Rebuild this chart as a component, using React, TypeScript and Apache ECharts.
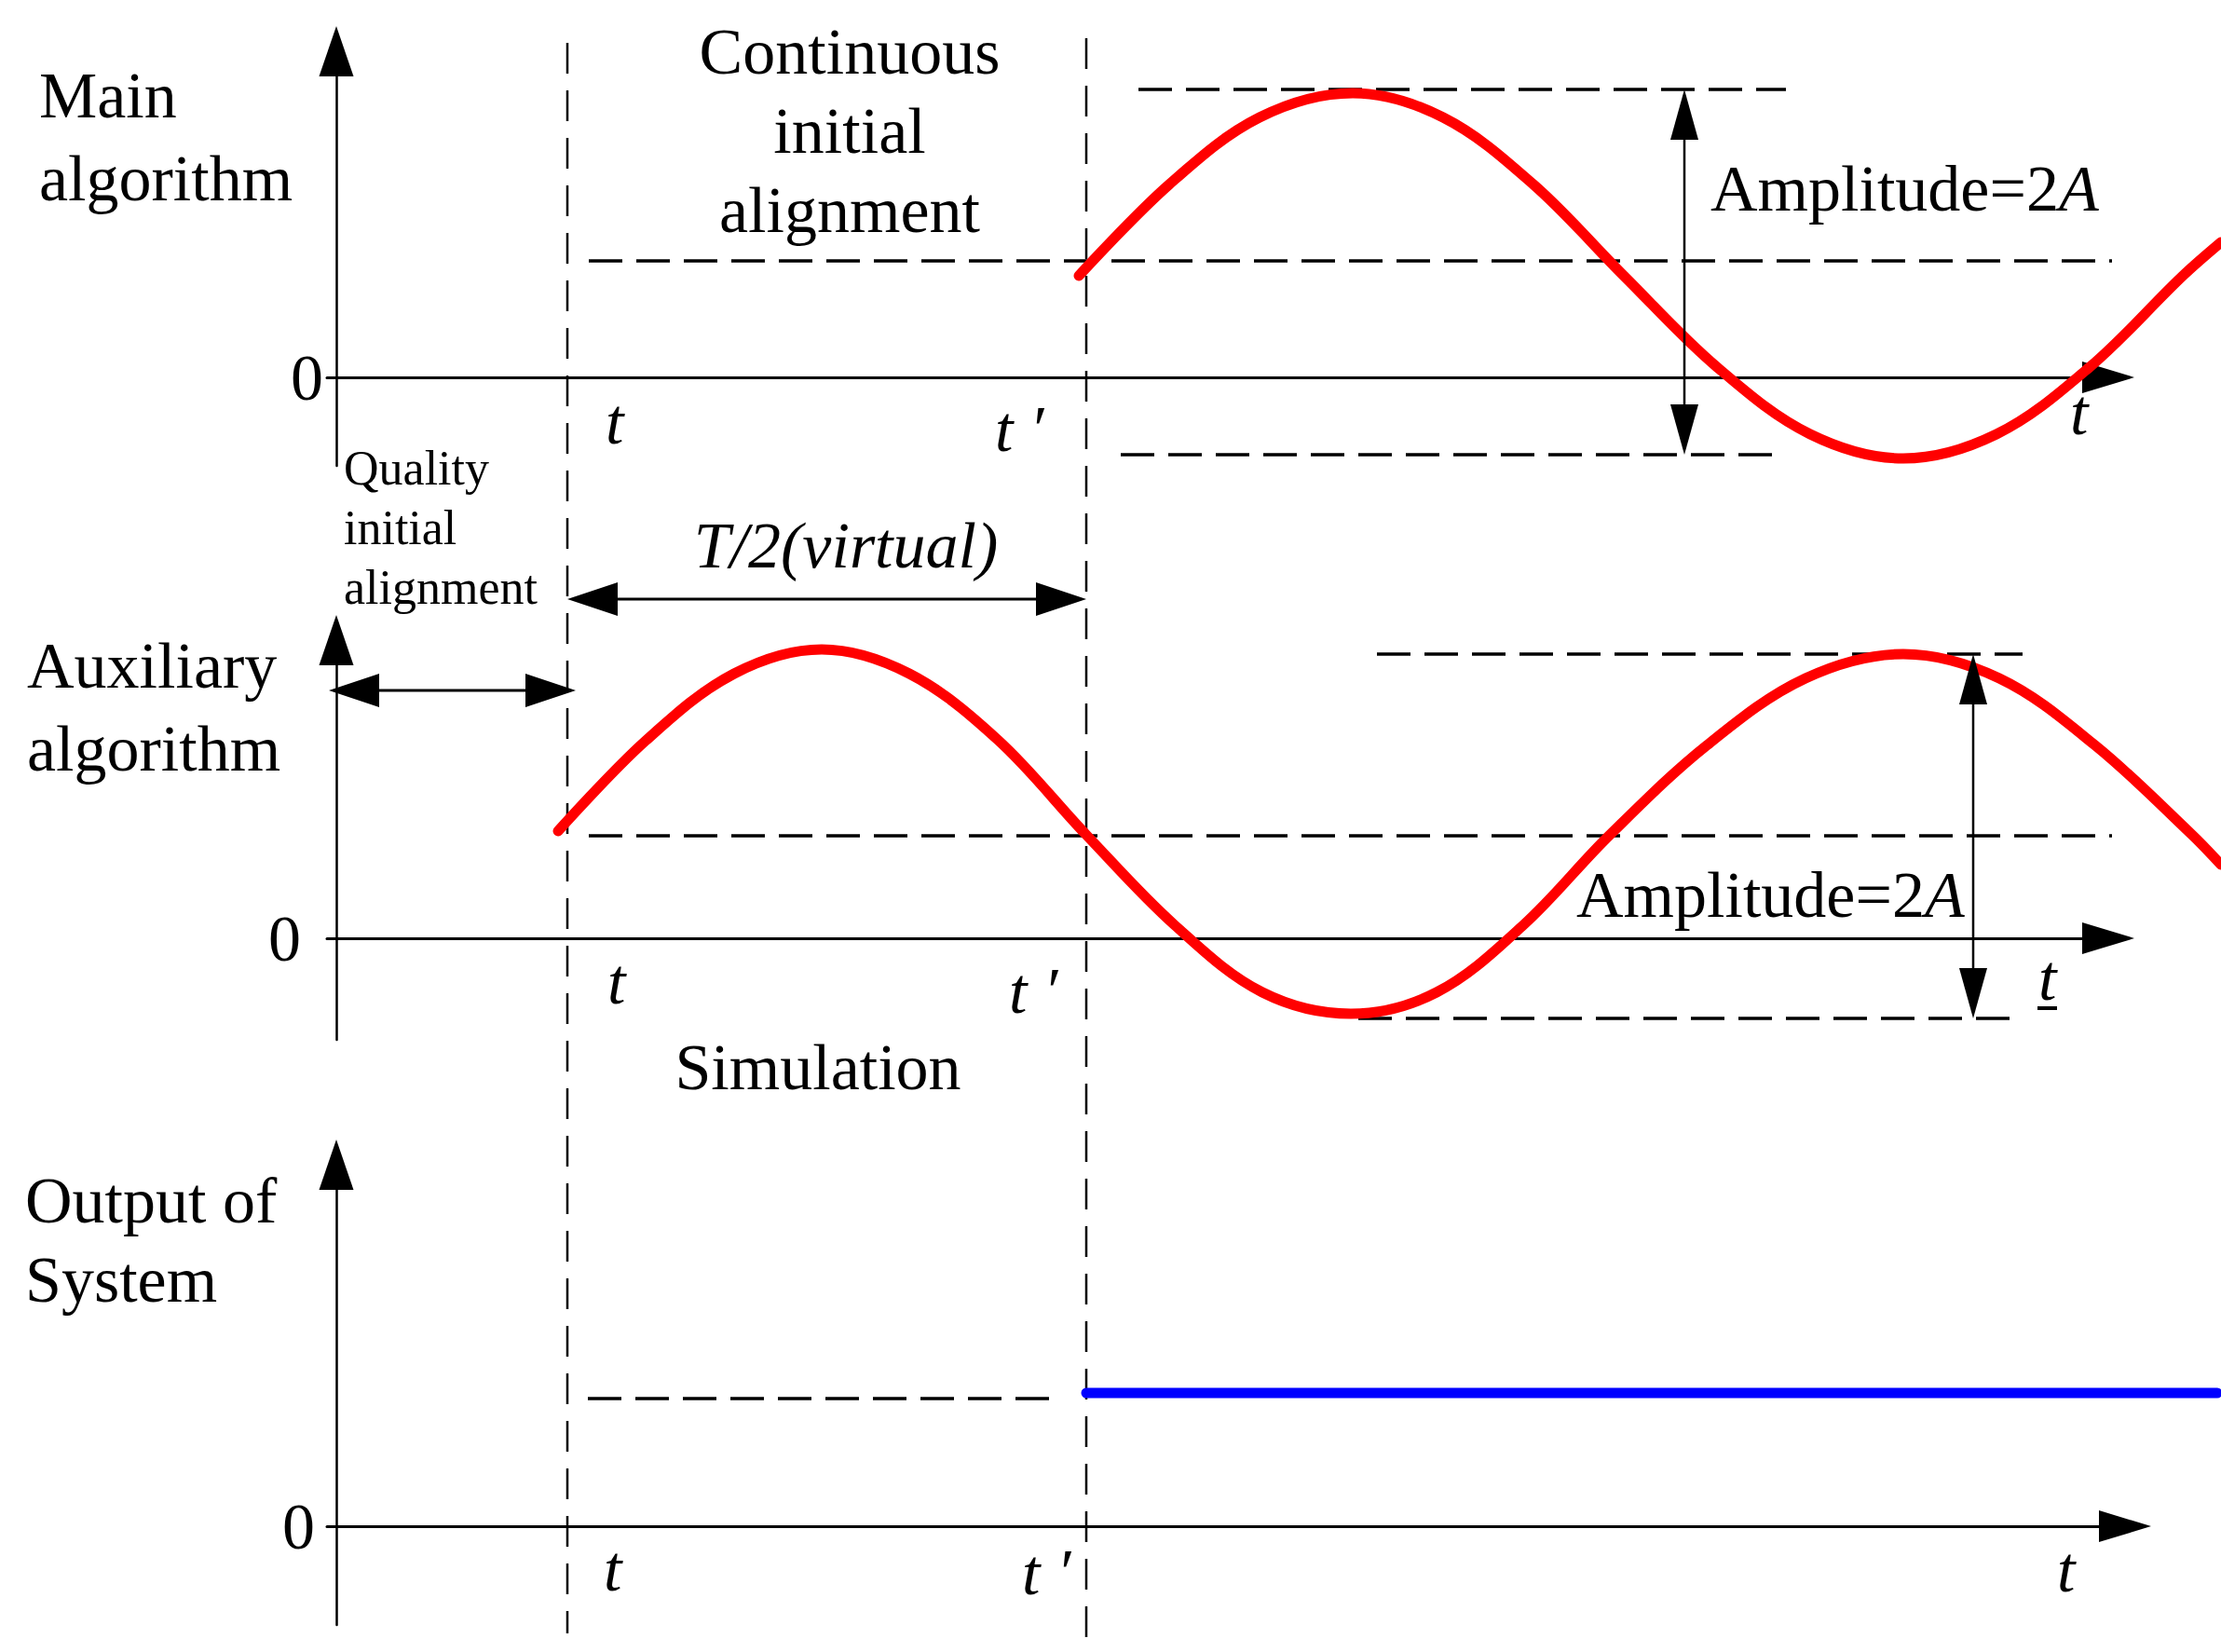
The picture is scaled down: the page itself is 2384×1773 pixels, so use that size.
import React, { useEffect, useRef } from 'react';
import * as echarts from 'echarts';

// ---------------- data (x: time units, y: signal units, 0 = time axis) ----------------
const T_START = 2.48; // t
const T_PRIME = 8.05; // t′

// Main algorithm (red sine after t′)
const mainX = [7.97, 8.94, 9.91, 10.91, 11.88, 12.85, 13.82, 14.82, 15.82, 16.82, 17.82, 18.82, 19.82, 20.23];
const mainY = [1.09, 2.07, 2.79, 3.05, 2.79, 2.07, 1.09, 0.11, -0.61, -0.87, -0.61, 0.11, 1.09, 1.45];

// Auxiliary algorithm (red sine after t)
const auxX = [2.38, 3.32, 4.27, 5.21, 6.15, 7.1, 8.05, 9.0, 9.94, 10.89, 11.81, 12.74, 13.66, 14.71, 15.77, 16.82, 17.85, 18.88, 19.91, 20.23];
const auxY = [1.15, 2.12, 2.84, 3.1, 2.84, 2.13, 1.11, 0.14, -0.58, -0.81, -0.58, 0.14, 1.1, 2.07, 2.79, 3.05, 2.79, 2.07, 1.12, 0.79];

// Output of system (blue level after t′)
const outX = [8.05, 20.19];
const outY = [1.43, 1.43];

// Dashed reference levels
const mainDashY = [3.09, 1.25, -0.83];
const mainDashFrom = [8.61, 2.71, 8.42];
const mainDashTo = [15.56, 19.06, 15.49];
const auxDashY = [3.05, 1.1, -0.86];
const auxDashFrom = [11.17, 2.71, 10.97];
const auxDashTo = [18.1, 19.06, 18.04];
const outDashY = [1.37];
const outDashFrom = [2.7];
const outDashTo = [7.66];

// Vertical dashed markers at t and t′ (page-height units, top → bottom)
const markerX = [T_START, T_PRIME];
const markerTop = [0.46, 0.41];
const markerBottom = [17.53, 17.57];

// Double arrows
const ampArrowX = [14.47, 17.57]; // main, auxiliary
const ampArrowTop = [3.09, 3.05];
const ampArrowBottom = [-0.83, -0.86];
const halfPeriodArrowY = 3.64; // T/2 (virtual), auxiliary panel units
const qualityArrowY = 2.66;
const qualityArrowFrom = -0.08;
const qualityArrowTo = 2.57;

// Panel axis ranges
const Y_MIN = [-0.95, -1.09, -1.06];
const Y_MAX = [3.5, 3.2, 3.88];
const X_MIN = -0.1;
const X_MAX = 19.1; // end of the drawn time axis
const X_MAX_PAGE = 20.23; // right edge of the picture (curves run to it)

// ---------------- styles / layout ----------------
const FONT = 'Liberation Serif, "Times New Roman", serif';
const RED = '#ff0000';
const BLUE = '#0000ff';
const BLACK = '#000000';
const ARROW_HALF = 0.27; // half arrow-head length in data units

const GRID_LEFT = 351;
const GRID_W = 1920;
const GRID_W_PAGE = 2033;
const GRID_TOP = [55, 687, 1250];
const GRID_H = [445, 429, 494];
const ZERO_MARGIN = [4, 28, 13];
const X_ARROW_OFFSET = [-8, -8, 10];

const pts = (xs: number[], ys: number[]) => xs.map((x, i) => [x, ys[i]]);

function lineSeries(idx: number, data: any[], lineStyle: any, extra: any = {}) {
  return {
    type: 'line',
    xAxisIndex: idx,
    yAxisIndex: idx,
    data,
    symbol: 'none',
    clip: false,
    silent: true,
    animation: false,
    lineStyle,
    ...extra,
  };
}

function arrowSeries(idx: number, p1: number[], p2: number[], r1: number, r2: number, headW: number, width: number) {
  return {
    type: 'line',
    xAxisIndex: idx,
    yAxisIndex: idx,
    data: [
      { value: p1, symbolRotate: r1 },
      { value: p2, symbolRotate: r2 },
    ],
    symbol: 'triangle',
    symbolSize: [headW, 54],
    showSymbol: true,
    clip: false,
    silent: true,
    z: 6,
    itemStyle: { color: BLACK },
    lineStyle: { color: BLACK, width },
  };
}

function label(text: string, x: number, baseline: number, size: number, lh: number, align = 'left', italic = false, rich?: any) {
  return {
    type: 'text',
    x,
    y: baseline - lh / 2 - 0.3375 * size,
    silent: true,
    z: 10,
    style: {
      text,
      fontFamily: FONT,
      fontSize: size,
      fontStyle: italic ? 'italic' : 'normal',
      fill: BLACK,
      align,
      textAlign: align,
      verticalAlign: 'top',
      textVerticalAlign: 'top',
      lineHeight: lh,
      rich,
    },
  };
}

const ampRich = {
  n: { fontFamily: FONT, fontSize: 70, fill: BLACK, lineHeight: 80 },
  i: { fontFamily: FONT, fontSize: 70, fill: BLACK, fontStyle: 'italic', lineHeight: 80 },
};

function buildOption() {
  const dashH = { color: BLACK, width: 3.5, type: [36, 15] };
  const dashV = { color: BLACK, width: 2.5, type: [33, 18] };
  const series: any[] = [];

  // waves (on the page-wide twin grids 4..6, same scale as panels 0..2)
  series.push(lineSeries(4, pts(mainX, mainY), { color: RED, width: 11, cap: 'round', join: 'round' }, { smooth: 0.35, z: 5 }));
  series.push(lineSeries(5, pts(auxX, auxY), { color: RED, width: 11, cap: 'round', join: 'round' }, { smooth: 0.35, z: 5 }));
  series.push(lineSeries(6, pts(outX, outY), { color: BLUE, width: 11, cap: 'round' }, { z: 5 }));

  // dashed levels
  const addDash = (idx: number, ys: number[], from: number[], to: number[]) =>
    ys.forEach((y, i) => series.push(lineSeries(idx, [[from[i], y], [to[i], y]], dashH, { z: 3 })));
  addDash(0, mainDashY, mainDashFrom, mainDashTo);
  addDash(1, auxDashY, auxDashFrom, auxDashTo);
  addDash(2, outDashY, outDashFrom, outDashTo);

  // vertical markers (overlay grid)
  markerX.forEach((x, i) => series.push(lineSeries(3, [[x, markerTop[i]], [x, markerBottom[i]]], dashV, { z: 3 })));

  // amplitude arrows
  series.push(arrowSeries(0, [ampArrowX[0], ampArrowTop[0] - ARROW_HALF], [ampArrowX[0], ampArrowBottom[0] + ARROW_HALF], 0, 180, 30, 2.5));
  series.push(arrowSeries(1, [ampArrowX[1], ampArrowTop[1] - ARROW_HALF], [ampArrowX[1], ampArrowBottom[1] + ARROW_HALF], 0, 180, 30, 2.5));
  // T/2 arrow and quality arrow
  series.push(arrowSeries(1, [T_START + ARROW_HALF, halfPeriodArrowY], [T_PRIME - ARROW_HALF, halfPeriodArrowY], 90, -90, 36, 3));
  series.push(arrowSeries(1, [qualityArrowFrom + ARROW_HALF, qualityArrowY], [qualityArrowTo - ARROW_HALF, qualityArrowY], 90, -90, 36, 3));

  const grid: any[] = [0, 1, 2].map((i) => ({ left: GRID_LEFT, width: GRID_W, top: GRID_TOP[i], height: GRID_H[i], containLabel: false }));
  grid.push({ left: GRID_LEFT, width: GRID_W, top: 0, height: 1773, containLabel: false });
  [0, 1, 2].forEach((i) => grid.push({ left: GRID_LEFT, width: GRID_W_PAGE, top: GRID_TOP[i], height: GRID_H[i], containLabel: false }));

  const xAxis: any[] = [0, 1, 2].map((i) => ({
    type: 'value',
    gridIndex: i,
    min: X_MIN,
    max: X_MAX,
    axisLine: {
      show: true,
      onZero: true,
      symbol: ['none', 'triangle'],
      symbolSize: [34, 56],
      symbolOffset: [0, X_ARROW_OFFSET[i]],
      lineStyle: { color: BLACK, width: 3 },
    },
    axisTick: { show: false },
    axisLabel: { show: false },
    splitLine: { show: false },
  }));
  xAxis.push({ type: 'value', gridIndex: 3, min: X_MIN, max: X_MAX, show: false, splitLine: { show: false } });
  [0, 1, 2].forEach((i) =>
    xAxis.push({ type: 'value', gridIndex: 4 + i, min: X_MIN, max: X_MAX_PAGE, show: false, splitLine: { show: false } })
  );

  const yAxis: any[] = [0, 1, 2].map((i) => ({
    type: 'value',
    gridIndex: i,
    min: Y_MIN[i],
    max: Y_MAX[i],
    axisLine: {
      show: true,
      onZero: true,
      symbol: ['none', 'triangle'],
      symbolSize: [37, 54],
      lineStyle: { color: BLACK, width: 2.5 },
    },
    axisTick: { show: false },
    splitLine: { show: false },
    axisLabel: {
      show: true,
      customValues: [0],
      formatter: () => '0',
      fontFamily: FONT,
      fontSize: 70,
      color: BLACK,
      margin: ZERO_MARGIN[i],
    },
  }));
  yAxis.push({ type: 'value', gridIndex: 3, min: 0, max: 17.73, inverse: true, show: false, splitLine: { show: false } });
  [0, 1, 2].forEach((i) =>
    yAxis.push({ type: 'value', gridIndex: 4 + i, min: Y_MIN[i], max: Y_MAX[i], show: false, splitLine: { show: false } })
  );

  const graphic: any[] = [
    label('Main\nalgorithm', 42, 126, 70, 89),
    label('Continuous\ninitial\nalignment', 912, 79, 70, 85, 'center'),
    label('{n|Amplitude=2}{i|A}', 1836, 226, 70, 80, 'left', false, ampRich),
    label('t', 650, 476, 70, 80, 'left', true),
    label('t \u2032', 1068, 484, 70, 80, 'left', true),
    label('t', 2222, 466, 70, 80, 'left', true),

    label('Quality\ninitial\nalignment', 369, 520, 52, 64),
    label('T/2(virtual)', 908, 609, 70, 80, 'center', true),
    label('Auxiliary\nalgorithm', 29, 738, 70, 89),
    label('{n|Amplitude=2}{i|A}', 1692, 984, 70, 80, 'left', false, ampRich),
    label('t', 652, 1077, 70, 80, 'left', true),
    label('t \u2032', 1083, 1087, 70, 80, 'left', true),
    label('t', 2188, 1073, 70, 80, 'left', true),
    { type: 'rect', shape: { x: 2187, y: 1080, width: 21, height: 4 }, style: { fill: BLACK }, silent: true },
    label('Simulation', 878, 1169, 70, 80, 'center'),

    label('Output of\nSystem', 27, 1312, 70, 85),
    label('t', 648, 1707, 70, 80, 'left', true),
    label('t \u2032', 1097, 1711, 70, 80, 'left', true),
    label('t', 2208, 1708, 70, 80, 'left', true),
  ];

  return {
    animation: false,
    backgroundColor: '#ffffff',
    grid,
    xAxis,
    yAxis,
    series,
    graphic,
  };
}

export default function App() {
  const ref = useRef<HTMLDivElement>(null);
  useEffect(() => {
    if (!ref.current) return;
    const chart = echarts.init(ref.current, null, { renderer: 'svg' });
    chart.setOption(buildOption() as any);
    return () => chart.dispose();
  }, []);
  return (
    <div
      ref={ref}
      style={{ position: 'absolute', left: 0, top: 0, width: 2384, height: 1773, background: '#ffffff' }}
    />
  );
}
